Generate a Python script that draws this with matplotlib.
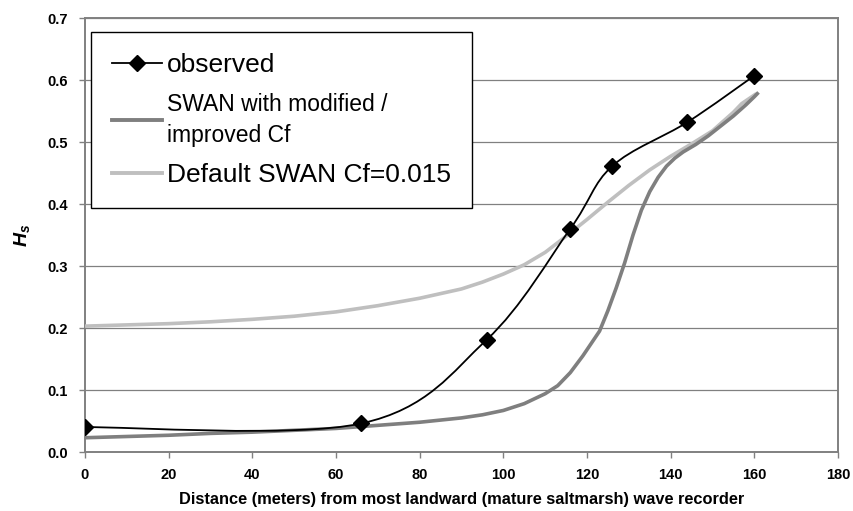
import matplotlib
matplotlib.use("Agg")
import matplotlib.pyplot as plt
from matplotlib.path import Path
from matplotlib.patches import PathPatch
from matplotlib.lines import Line2D
import numpy as np

plt.rcParams["font.family"] = ["Liberation Sans", "DejaVu Sans"]
plt.rcParams["mathtext.fontset"] = "custom"
plt.rcParams["mathtext.it"] = "Liberation Sans:italic:bold"
plt.rcParams["mathtext.rm"] = "Liberation Sans:bold"

# Observed significant wave height along the transect
obs_x = [0, 66, 96, 116, 126, 144, 160]
obs_hs = [0.040, 0.046, 0.181, 0.360, 0.461, 0.532, 0.607]

# SWAN run with modified / improved friction coefficient
mod_x = [0, 10, 20, 30, 40, 50, 60, 70, 80, 90, 95, 100, 105, 110, 113, 116,
         119, 121, 123, 125, 127, 129, 131, 133, 135, 137, 139, 141, 143, 146,
         149, 152, 155, 158, 160, 161]
mod_hs = [0.023, 0.025, 0.027, 0.030, 0.032, 0.035, 0.038, 0.043, 0.048,
          0.055, 0.060, 0.067, 0.078, 0.094, 0.107, 0.128, 0.155, 0.175,
          0.195, 0.228, 0.265, 0.305, 0.350, 0.390, 0.420, 0.443, 0.461,
          0.474, 0.484, 0.496, 0.510, 0.526, 0.542, 0.560, 0.573, 0.580]

# SWAN run with the default friction coefficient Cf = 0.015
def_x = [0, 10, 20, 30, 40, 50, 60, 70, 80, 90, 95, 100, 105, 110, 115, 120,
         125, 130, 135, 140, 145, 150, 155, 157, 160.5]
def_hs = [0.203, 0.205, 0.207, 0.210, 0.214, 0.219, 0.226, 0.236, 0.248,
          0.263, 0.274, 0.287, 0.302, 0.322, 0.348, 0.375, 0.403, 0.430,
          0.455, 0.477, 0.497, 0.518, 0.548, 0.562, 0.578]

x_ticks = [0, 20, 40, 60, 80, 100, 120, 140, 160, 180]
y_ticks = [0.0, 0.1, 0.2, 0.3, 0.4, 0.5, 0.6, 0.7]

DARK = "#7f7f7f"
LIGHT = "#bfbfbf"
FRAME = "#808080"

fig = plt.figure(figsize=(8.54, 5.11), dpi=100)
ax = fig.add_axes([85 / 854, 1 - 452 / 511, 753 / 854, 434 / 511])

ax.set_xlim(0, 180)
ax.set_ylim(0, 0.7)
ax.set_xticks(x_ticks)
ax.set_yticks(y_ticks)
ax.set_yticklabels([f"{v:.1f}" for v in y_ticks])
ax.yaxis.grid(True, color=FRAME, linewidth=0.9)
ax.set_axisbelow(True)
for s in ax.spines.values():
    s.set_color(FRAME)
    s.set_linewidth(1.4)
ax.tick_params(axis="both", direction="out", length=4.5, width=1.0,
               color=FRAME, labelsize=10.5)
ax.tick_params(axis="y", pad=8)
ax.tick_params(axis="x", pad=7)
for lab in ax.get_xticklabels() + ax.get_yticklabels():
    lab.set_fontweight("bold")

# Model curves
ax.plot(def_x, def_hs, color=LIGHT, linewidth=2.6, solid_capstyle="butt", zorder=3)
ax.plot(mod_x, mod_hs, color=DARK, linewidth=2.6, solid_capstyle="butt", zorder=4)

# Observed series: smoothed line (Catmull-Rom style Bezier through the points)
pts = np.column_stack([obs_x, obs_hs])
verts = [tuple(pts[0])]
codes = [Path.MOVETO]
n = len(pts)
for i in range(n - 1):
    p_prev = pts[i - 1] if i > 0 else pts[i]
    p0, p1 = pts[i], pts[i + 1]
    p_next = pts[i + 2] if i + 2 < n else pts[i + 1]
    c1 = p0 + (p1 - p_prev) / 6.0
    c2 = p1 - (p_next - p0) / 6.0
    verts += [tuple(c1), tuple(c2), tuple(p1)]
    codes += [Path.CURVE4] * 3
ax.add_patch(PathPatch(Path(verts, codes), facecolor="none", edgecolor="black",
                       linewidth=1.3, zorder=5))
ax.plot(obs_x, obs_hs, linestyle="none", marker="D", markersize=8.5,
        color="black", zorder=6)

ax.set_xlabel("Distance (meters) from most landward (mature saltmarsh) wave recorder",
              fontsize=11.8, fontweight="bold")
ax.xaxis.set_label_coords(0.5, -0.092)
ax.set_ylabel(r"$H_s$", fontsize=14)
ax.yaxis.set_label_coords(-0.07, 0.5)

handles = [
    Line2D([], [], color="black", linewidth=1.3, marker="D", markersize=8.5),
    Line2D([], [], color=DARK, linewidth=2.8),
    Line2D([], [], color=LIGHT, linewidth=2.8),
]
labels = ["observed", "SWAN with modified /\nimproved Cf", "Default SWAN Cf=0.015"]
leg = fig.legend(handles, labels, loc="upper left",
                 bbox_to_anchor=(91 / 854, 1 - 32 / 511), borderaxespad=0,
                 fontsize=19, frameon=True, fancybox=False, framealpha=1,
                 edgecolor="black", handlelength=1.88, handletextpad=0.2,
                 borderpad=0.8, labelspacing=0.6)
leg.get_frame().set_linewidth(1.0)
t2 = leg.get_texts()[1]
t2.set_fontsize(16.5)
t2.set_linespacing(1.45)

fig.savefig("out.png", dpi=100)
